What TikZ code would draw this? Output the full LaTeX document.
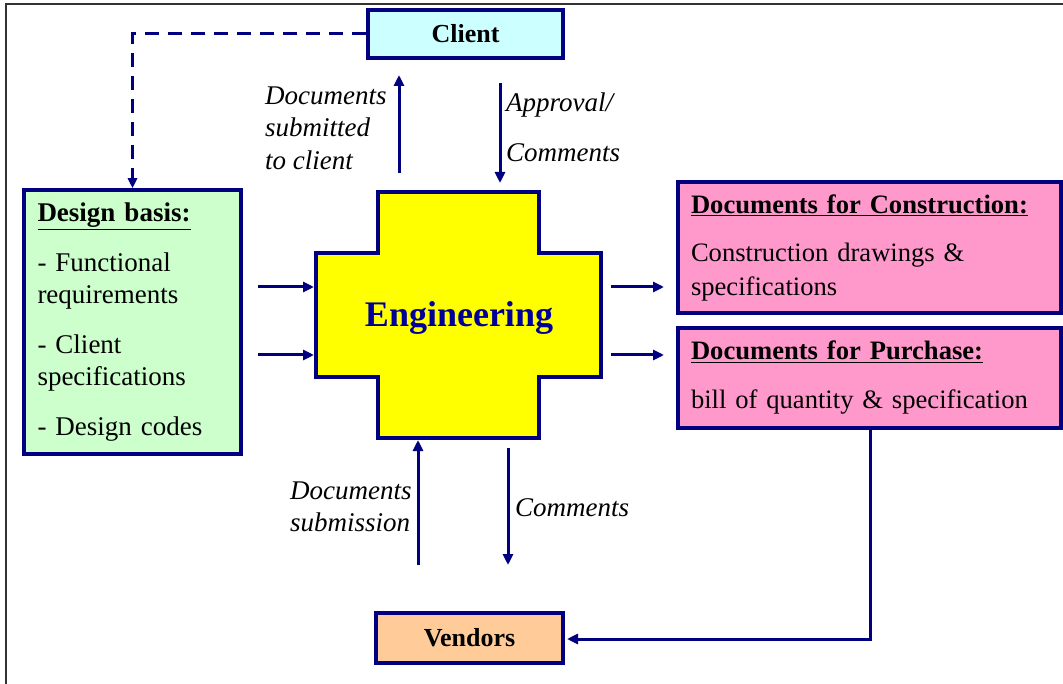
\documentclass[tikz,border=0pt]{standalone}
\usepackage{fontspec}
\setmainfont{Liberation Serif}
\usetikzlibrary{arrows.meta}
\definecolor{navy}{HTML}{000080}
\definecolor{engblue}{HTML}{000099}
\definecolor{clientc}{HTML}{CCFFFF}
\definecolor{designc}{HTML}{CCFFCC}
\definecolor{pinkc}{HTML}{FF99CC}
\definecolor{vendc}{HTML}{FFCC99}
\definecolor{crossc}{HTML}{FFFF00}
\definecolor{framec}{HTML}{333333}
\begin{document}
\begin{tikzpicture}[x=1pt,y=-1pt,
  box/.style={draw=navy, line width=3.5pt, rectangle, inner xsep=12pt, inner ysep=0pt},
  bodyfont/.style={font=\fontsize{27}{32}\selectfont},
  lbl/.style={font=\itshape\fontsize{27}{32.5}\selectfont, align=left, inner sep=0pt},
  arr/.style={draw=navy, line width=3pt, -{Triangle[length=11pt,width=10pt]}},
  dsh/.style={draw=navy, line width=3pt, dash pattern=on 14pt off 9pt, -{Triangle[length=10pt,width=9pt]}},
  framel/.style={draw=framec, line width=2pt}
]
\useasboundingbox (0,0) rectangle (1063,684);
\fill[white] (0,0) rectangle (1063,684);
\draw[framel] (6,684) -- (6,4) -- (1063,4);

% boxes
\node[box, fill=clientc, minimum width=195pt, minimum height=48pt, font=\bfseries\fontsize{26}{30}\selectfont] (client) at (465.5,34) {Client};
\node[box, fill=vendc, minimum width=187pt, minimum height=50pt, font=\bfseries\fontsize{26}{30}\selectfont] (vendors) at (469.5,638) {Vendors};
\node[box, fill=designc, minimum width=217pt, minimum height=264pt, text width=190pt, align=left, bodyfont] (design) at (132.5,322)
  {\underline{\textbf{Design basis:}}\\[18pt]
   - Functional\\ requirements\\[18pt]
   - Client\\ specifications\\[18pt]
   - Design codes};
\node[box, fill=pinkc, minimum width=383pt, minimum height=131pt, text width=357pt, align=left, font=\fontsize{26.6}{34}\selectfont] (constr) at (869.5,247.5)
  {\underline{\textbf{Documents for Construction:}}\\[14pt]
   Construction drawings \&\\ specifications};
\node[box, fill=pinkc, minimum width=383pt, minimum height=100pt, text width=357pt, align=left, font=\fontsize{26.6}{34}\selectfont] (purch) at (869.5,378)
  {\underline{\textbf{Documents for Purchase:}}\\[15pt]
   bill of quantity \& specification};

% engineering cross
\filldraw[fill=crossc, draw=navy, line width=3.5pt]
  (378,192) -- (539,192) -- (539,253) -- (601,253) -- (601,377) -- (539,377)
  -- (539,438) -- (378,438) -- (378,377) -- (316,377) -- (316,253) -- (378,253) -- cycle;
\node[text=engblue, font=\bfseries\fontsize{36}{40}\selectfont] (eng) at (459,318) {Engineering};

% connector end points
\coordinate (inA1) at (258,287);  \coordinate (inA2) at (314,287);
\coordinate (inB1) at (258,355);  \coordinate (inB2) at (314,355);
\coordinate (outA1) at (611,287); \coordinate (outA2) at (664,287);
\coordinate (outB1) at (611,355); \coordinate (outB2) at (664,355);
\coordinate (upC1) at (399,173);  \coordinate (upC2) at (399,75);
\coordinate (dnC1) at (500,83);   \coordinate (dnC2) at (500,183);
\coordinate (upV1) at (418,565);  \coordinate (upV2) at (418,440);
\coordinate (dnV1) at (508,448);  \coordinate (dnV2) at (508,565);
\coordinate (pcorner) at (870,639);
\coordinate (vtip) at (567,639);

% connectors
\draw[dsh] (client.west) -| (design.north);
\draw[arr] (inA1) -- (inA2);
\draw[arr] (inB1) -- (inB2);
\draw[arr] (outA1) -- (outA2);
\draw[arr] (outB1) -- (outB2);
\draw[arr] (upC1) -- (upC2);
\draw[arr] (dnC1) -- (dnC2);
\draw[arr] (upV1) -- (upV2);
\draw[arr] (dnV1) -- (dnV2);
\draw[arr] (purch.south -| pcorner) -- (pcorner) -- (vtip);

% labels
\node[lbl, anchor=west] (lsub) at (265,128) {Documents\\ submitted\\ to client};
\node[lbl, anchor=west] (lapp) at (506,127) {Approval/\\[17.5pt] Comments};
\node[lbl, anchor=west] (ldoc) at (290,507) {Documents\\ submission};
\node[lbl, anchor=west] (lcom) at (515,508) {Comments};
\end{tikzpicture}
\end{document}
